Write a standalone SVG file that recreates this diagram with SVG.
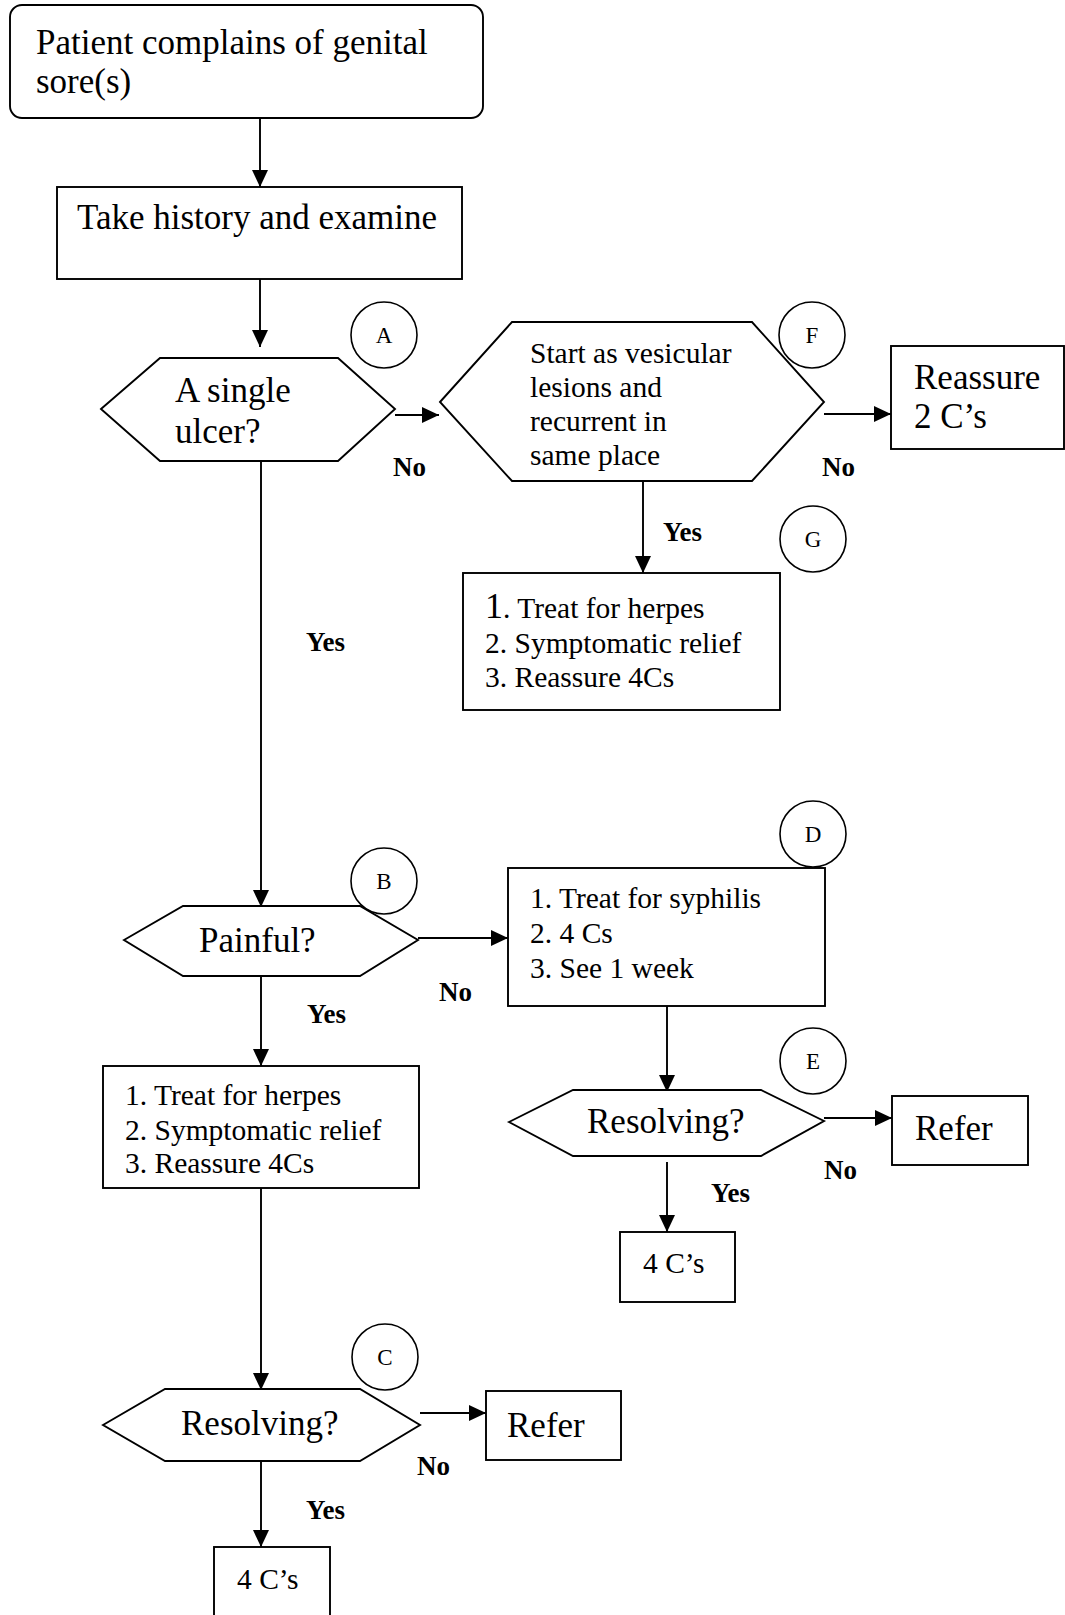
<svg xmlns="http://www.w3.org/2000/svg" width="1065" height="1615" viewBox="0 0 1065 1615">
  <style>
    .shape { fill: #fff; stroke: #000; stroke-width: 1.9; }
    .badge { fill: none; stroke: #000; stroke-width: 1.6; }
    .txt { font-family: "Liberation Serif", "Times New Roman", serif; fill: #000; }
    .big { font-size: 35px; }
    .mid { font-size: 29.5px; }
    .tag { font-size: 23px; text-anchor: middle; }
    .lbl { font-family: "Liberation Serif", "Times New Roman", serif; font-size: 27px; font-weight: bold; fill: #000; }
    .edge { stroke: #000; stroke-width: 1.9; fill: none; marker-end: url(#arr); }
  </style>
  <defs>
    <marker id="arr" markerWidth="17" markerHeight="16" refX="17" refY="8" orient="auto" markerUnits="userSpaceOnUse">
      <path d="M0,0 L17,8 L0,16 z" fill="#000"/>
    </marker>
  </defs>
  <rect width="1065" height="1615" fill="#fff"/>

  <!-- connectors and their branch labels -->
  <g id="connectors">
    <line class="edge" x1="260" y1="118" x2="260" y2="187"/>
    <line class="edge" x1="260" y1="279" x2="260" y2="347"/>
    <line class="edge" x1="395" y1="415" x2="439" y2="415"/>
    <text class="lbl" x="393" y="476">No</text>
    <line class="edge" x1="643" y1="481" x2="643" y2="573"/>
    <text class="lbl" x="663" y="541">Yes</text>
    <line class="edge" x1="824" y1="414" x2="891" y2="414"/>
    <text class="lbl" x="822" y="476">No</text>
    <line class="edge" x1="261" y1="461" x2="261" y2="907"/>
    <text class="lbl" x="306" y="651">Yes</text>
    <line class="edge" x1="418" y1="938" x2="508" y2="938"/>
    <text class="lbl" x="439" y="1001">No</text>
    <line class="edge" x1="261" y1="976" x2="261" y2="1066"/>
    <text class="lbl" x="307" y="1023">Yes</text>
    <line class="edge" x1="667" y1="1006" x2="667" y2="1092"/>
    <line class="edge" x1="824" y1="1118" x2="892" y2="1118"/>
    <text class="lbl" x="824" y="1179">No</text>
    <line class="edge" x1="667" y1="1162" x2="667" y2="1232"/>
    <text class="lbl" x="711" y="1202">Yes</text>
    <line class="edge" x1="261" y1="1188" x2="261" y2="1390"/>
    <line class="edge" x1="420" y1="1413" x2="486" y2="1413"/>
    <text class="lbl" x="417" y="1475">No</text>
    <line class="edge" x1="261" y1="1461" x2="261" y2="1547"/>
    <text class="lbl" x="306" y="1519">Yes</text>
  </g>

  <g id="start">
    <rect class="shape" x="10" y="5" width="473" height="113" rx="12"/>
    <text class="txt big" x="36" y="54">Patient complains of genital</text>
    <text class="txt big" x="36" y="93">sore(s)</text>
  </g>

  <g id="history">
    <rect class="shape" x="57" y="187" width="405" height="92"/>
    <text class="txt big" x="77" y="229">Take history and examine</text>
  </g>

  <g id="q-single-ulcer">
    <polygon class="shape" points="101,409 160,358 338,358 395,409 338,461 160,461"/>
    <text class="txt big" x="175" y="402">A single</text>
    <text class="txt big" x="175" y="443">ulcer?</text>
  </g>
  <g id="badge-a">
    <circle class="badge" cx="384" cy="335" r="33"/>
    <text class="txt tag" x="384" y="343">A</text>
  </g>

  <g id="q-vesicular">
    <polygon class="shape" points="440,402 512,322 752,322 824,402 752,481 512,481"/>
    <text class="txt mid" x="530" y="363">Start as vesicular</text>
    <text class="txt mid" x="530" y="397">lesions and</text>
    <text class="txt mid" x="530" y="431">recurrent in</text>
    <text class="txt mid" x="530" y="465">same place</text>
  </g>
  <g id="badge-f">
    <circle class="badge" cx="812" cy="335" r="33"/>
    <text class="txt tag" x="812" y="343">F</text>
  </g>

  <g id="reassure">
    <rect class="shape" x="891" y="346" width="173" height="103"/>
    <text class="txt big" x="914" y="389">Reassure</text>
    <text class="txt big" x="914" y="428">2 C’s</text>
  </g>

  <g id="herpes-recurrent">
    <rect class="shape" x="463" y="573" width="317" height="137"/>
    <text class="txt mid" x="485" y="618"><tspan font-size="36">1</tspan>. Treat for herpes</text>
    <text class="txt mid" x="485" y="653">2. Symptomatic relief</text>
    <text class="txt mid" x="485" y="687">3. Reassure 4Cs</text>
  </g>
  <g id="badge-g">
    <circle class="badge" cx="813" cy="539" r="33"/>
    <text class="txt tag" x="813" y="547">G</text>
  </g>

  <g id="q-painful">
    <polygon class="shape" points="124,940 183,906 360,906 418,940 360,976 183,976"/>
    <text class="txt big" x="199" y="952">Painful?</text>
  </g>
  <g id="badge-b">
    <circle class="badge" cx="384" cy="881" r="33"/>
    <text class="txt tag" x="384" y="889">B</text>
  </g>

  <g id="syphilis">
    <rect class="shape" x="508" y="868" width="317" height="138"/>
    <text class="txt mid" x="530" y="908">1. Treat for syphilis</text>
    <text class="txt mid" x="530" y="943">2. 4 Cs</text>
    <text class="txt mid" x="530" y="978">3. See 1 week</text>
  </g>
  <g id="badge-d">
    <circle class="badge" cx="813" cy="834" r="33"/>
    <text class="txt tag" x="813" y="842">D</text>
  </g>

  <g id="herpes-painful">
    <rect class="shape" x="103" y="1066" width="316" height="122"/>
    <text class="txt mid" x="125" y="1105">1. Treat for herpes</text>
    <text class="txt mid" x="125" y="1140">2. Symptomatic relief</text>
    <text class="txt mid" x="125" y="1173">3. Reassure 4Cs</text>
  </g>

  <g id="q-resolving-e">
    <polygon class="shape" points="509,1122 573,1090 761,1090 824,1121 761,1156 573,1156"/>
    <text class="txt big" x="587" y="1133">Resolving?</text>
  </g>
  <g id="badge-e">
    <circle class="badge" cx="813" cy="1061" r="33"/>
    <text class="txt tag" x="813" y="1069">E</text>
  </g>

  <g id="refer-e">
    <rect class="shape" x="892" y="1096" width="136" height="69"/>
    <text class="txt big" x="915" y="1140">Refer</text>
  </g>

  <g id="four-cs-e">
    <rect class="shape" x="620" y="1232" width="115" height="70"/>
    <text class="txt mid" x="643" y="1273">4 C’s</text>
  </g>

  <g id="q-resolving-c">
    <polygon class="shape" points="103,1425 165,1389 360,1389 420,1425 360,1461 165,1461"/>
    <text class="txt big" x="181" y="1435">Resolving?</text>
  </g>
  <g id="badge-c">
    <circle class="badge" cx="385" cy="1357" r="33"/>
    <text class="txt tag" x="385" y="1365">C</text>
  </g>

  <g id="refer-c">
    <rect class="shape" x="486" y="1391" width="135" height="69"/>
    <text class="txt big" x="507" y="1437">Refer</text>
  </g>

  <g id="four-cs-c">
    <rect class="shape" x="214" y="1547" width="116" height="80"/>
    <text class="txt mid" x="237" y="1589">4 C’s</text>
  </g>
</svg>
